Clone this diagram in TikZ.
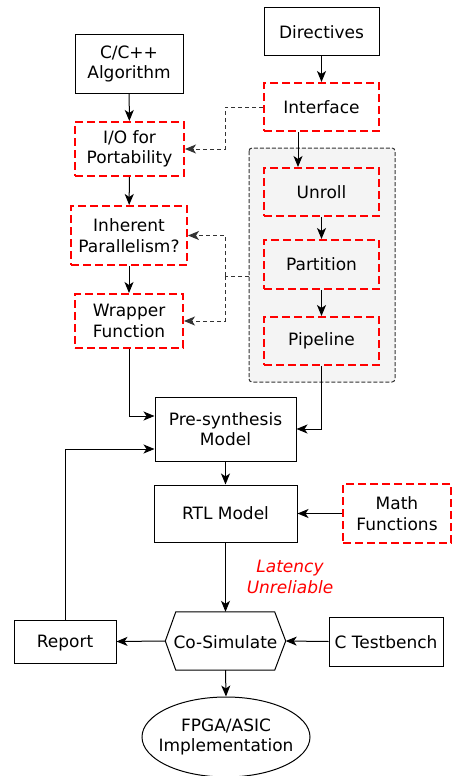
\documentclass[tikz,border=0pt]{standalone}
\usepackage{fontspec}
\setmainfont{DejaVu Sans}
\usetikzlibrary{arrows.meta,shapes.geometric}
\definecolor{grpfill}{HTML}{F4F4F4}
\definecolor{dgray}{HTML}{333333}
\tikzset{
  base/.style={inner sep=0pt, align=center, font=\fontsize{17}{20.5}\selectfont},
  plainbox/.style={base, draw=black, line width=1pt, fill=white},
  redbox/.style={base, draw=red, line width=2pt, dash pattern=on 8pt off 4pt},
  arr/.style={line width=1pt, -{Stealth[length=11pt,width=9pt,inset=3pt]}},
  darr/.style={line width=1pt, draw=dgray, dash pattern=on 4pt off 3pt, -{Stealth[length=11pt,width=9pt,inset=3pt]}},
  dline/.style={line width=1pt, draw=dgray, dash pattern=on 4pt off 3pt},
}
\begin{document}
\begin{tikzpicture}[x=1pt,y=-1pt]
\useasboundingbox (0,0) rectangle (452,776);
% group container
\draw[line width=1pt, draw=dgray, dash pattern=on 4pt off 2pt, fill=grpfill, rounded corners=3pt] (249,148) rectangle (395,382);
\node[coordinate] (grpw) at (249,276) {};

\node[plainbox, minimum width=115pt, minimum height=48pt] (dir) at (321.5,32) {Directives};
\node[plainbox, minimum width=108pt, minimum height=58pt] (alg) at (129,64) {C/C++\\Algorithm};
\node[redbox, fill=white, minimum width=115pt, minimum height=48pt] (intf) at (321.5,107) {Interface};
\node[redbox, fill=white, minimum width=109pt, minimum height=54pt] (io) at (129.5,149) {I/O for\\Portability};
\node[redbox, minimum width=115pt, minimum height=48pt] (unroll) at (321.5,192) {Unroll};
\node[redbox, minimum width=115pt, minimum height=49pt] (part) at (321.5,264.5) {Partition};
\node[redbox, minimum width=115pt, minimum height=48pt] (pipe) at (321.5,341) {Pipeline};
\node[redbox, fill=white, minimum width=116pt, minimum height=59pt] (inh) at (129,235.5) {Inherent\\Parallelism?};
\node[redbox, fill=white, minimum width=108pt, minimum height=54pt] (wrap) at (129,321) {Wrapper\\Function};
\node[plainbox, minimum width=141pt, minimum height=64pt] (pre) at (225.5,429) {Pre-synthesis\\Model};
\node[plainbox, minimum width=143pt, minimum height=57pt] (rtl) at (225.5,513.5) {RTL Model};
\node[redbox, fill=white, minimum width=108pt, minimum height=59pt] (math) at (397,513.5) {Math\\Functions};
\node[base, text=red, font=\fontsize{17}{20.5}\selectfont\itshape] (lat) at (290,577) {Latency\\Unreliable};
\node[base, minimum width=120pt, minimum height=58pt] (cosim) at (225.5,641) {};
\draw[line width=1pt, fill=white] (cosim.west) -- ([xshift=10.5pt]cosim.north west) -- ([xshift=-11pt]cosim.north east) -- (cosim.east) -- ([xshift=-11pt]cosim.south east) -- ([xshift=10.5pt]cosim.south west) -- cycle;
\node[base] (cosimtext) at ([yshift=-1pt]cosim.center) {Co-Simulate};
\node[plainbox, minimum width=102pt, minimum height=43pt] (rep) at (65,641.5) {};
\node[base] (reptext) at ([yshift=-1.5pt]rep.center) {Report};
\node[plainbox, minimum width=114pt, minimum height=49pt] (tb) at (386,641.5) {};
\node[base] (tbtext) at ([yshift=-1pt]tb.center) {C Testbench};
\node[draw=black, line width=1pt, ellipse, inner sep=0pt, minimum width=168pt, minimum height=80pt] (fpga) at (226,737) {};
\node[base] (fpgatext) at (fpga.center) {FPGA/ASIC\\Implementation};

% connectors
\draw[arr] (dir) -- (intf);
\draw[arr] (alg) -- (io);
\draw[arr] (intf.south -| 298,0) -- (unroll.north -| 298,0);
\draw[arr] (unroll) -- (part);
\draw[arr] (part) -- (pipe);
\draw[darr] (intf.west) -- (225,107) -- (225,149) -- (io.east);
\draw[dline] (grpw) -- (225,276);
\draw[darr] (225,276) -- (225,235.5) -- (inh.east);
\draw[darr] (225,276) -- (225,321) -- (wrap.east);
\draw[arr] (io) -- (inh);
\draw[arr] (inh) -- (wrap);
\draw[arr] (wrap.south) -- (129,416) -- (pre.west |- 0,416);
\draw[arr] (pipe.south) -- (321.5,429) -- (pre.east);
\draw[arr] (pre) -- (rtl);
\draw[arr] (math) -- (rtl);
\draw[arr] (rtl) -- (cosim.north);
\draw[arr] (cosim.west) -- (rep.east);
\draw[arr] (tb.west) -- (cosim.east);
\draw[arr] (cosim.south) -- (fpga.north);
\draw[arr] (rep.north) -- (65,449) -- (pre.west |- 0,449);
\end{tikzpicture}
\end{document}
